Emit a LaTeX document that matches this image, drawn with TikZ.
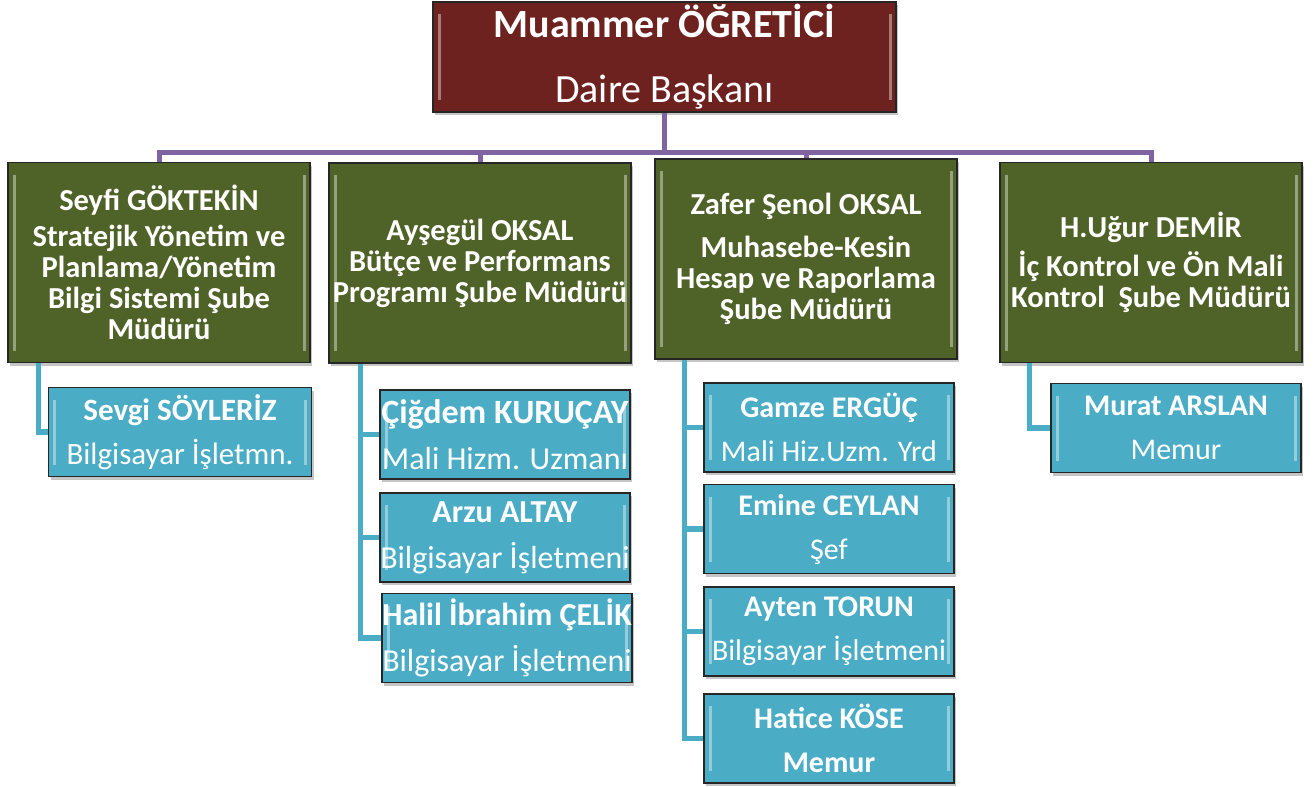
\documentclass[tikz,border=0pt]{standalone}
\usepackage{fontspec}
\setmainfont{Carlito}
\usetikzlibrary{shadows}
\definecolor{chiefred}{RGB}{110,34,31}
\definecolor{unitgreen}{RGB}{79,98,40}
\definecolor{staffblue}{RGB}{75,172,198}
\definecolor{busviolet}{RGB}{128,100,162}
\tikzset{
  box/.style={draw=black!85,line width=1.5pt,text=white,align=center,inner sep=0pt,
    drop shadow={shadow xshift=2pt,shadow yshift=-3pt,opacity=.45},
    path picture={
      \draw[white,opacity=.4,line width=3pt]
        ([shift={(6pt,-12pt)}]path picture bounding box.north west) -- ([shift={(6pt,12pt)}]path picture bounding box.south west)
        ([shift={(-6pt,-12pt)}]path picture bounding box.north east) -- ([shift={(-6pt,12pt)}]path picture bounding box.south east);}},
  chief/.style={box,fill=chiefred,minimum width=463pt,minimum height=110pt,font=\fontsize{40}{65}\selectfont},
  unit/.style={box,fill=unitgreen,minimum width=302pt,minimum height=200pt,font=\fontsize{30.5}{31}\selectfont\bfseries},
  staff/.style={box,fill=staffblue,minimum width=250pt,minimum height=89pt,font=\fontsize{30}{44}\selectfont},
  wide/.style={font=\fontsize{32}{46}\selectfont},
  bus/.style={busviolet,line width=5pt},
  twig/.style={staffblue,line width=5.5pt}
}
\begin{document}
\begin{tikzpicture}[x=1pt,y=-1pt]
\path[use as bounding box,fill=white] (0,0) rectangle (1315,787);
\node[chief] (chief) at (664.5,57) {\textbf{Muammer ÖĞRETİCİ}\\Daire Başkanı};
\node[unit] (u1) at (159,262.5) {Seyfi GÖKTEKİN\\[5pt]Stratejik Yönetim ve\\Planlama/Yönetim\\Bilgi Sistemi Şube\\Müdürü};
\node[unit] (u2) at (480,263) {Ayşegül OKSAL\\Bütçe ve Performans\\Programı Şube Müdürü};
\node[unit] (u3) at (806,259) {Zafer Şenol OKSAL\\[12pt]Muhasebe-Kesin\\Hesap ve Raporlama\\Şube Müdürü};
\node[unit] (u4) at (1151,262.5) {H.Uğur DEMİR\\[8pt]İç Kontrol ve Ön Mali\\Kontrol\ \ Şube Müdürü};
\node[staff,minimum width=263pt,font=\fontsize{31}{44}\selectfont] (s11) at (180,432) {\textbf{Sevgi SÖYLERİZ}\\Bilgisayar İşletmn.};
\node[staff,wide] (s21) at (505,434.5) {\textbf{\fontsize{34}{46}\selectfont Çiğdem KURUÇAY}\\Mali Hizm. Uzmanı};
\node[staff,wide] (s22) at (505,537.5) {\textbf{Arzu ALTAY}\\Bilgisayar İşletmeni};
\node[staff,wide] (s23) at (507,638) {\textbf{Halil İbrahim ÇELİK}\\Bilgisayar İşletmeni};
\node[staff] (s31) at (829,427.5) {\textbf{Gamze ERGÜÇ}\\Mali Hiz.Uzm. Yrd};
\node[staff] (s32) at (829,529) {\textbf{Emine CEYLAN}\\Şef};
\node[staff] (s33) at (829,631.5) {\textbf{Ayten TORUN}\\Bilgisayar İşletmeni};
\node[staff] (s34) at (829,738.5) {\textbf{Hatice KÖSE}\\\textbf{Memur}};
\node[staff] (s41) at (1176,428) {\textbf{Murat ARSLAN}\\Memur};
\coordinate (busline) at (0,152);
\draw[bus] (chief.south) -- (chief.south |- busline) -| (u1.north);
\draw[bus] (chief.south |- busline) -| (u2.north);
\draw[bus] (chief.south |- busline) -| (u3.north);
\draw[bus] (chief.south |- busline) -| (u4.north);
\draw[twig] ([xshift=31pt]u1.south west) |- (s11.west);
\draw[twig] ([xshift=32pt]u2.south west) |- (s21.west);
\draw[twig] ([xshift=32pt]u2.south west) |- (s22.west);
\draw[twig] ([xshift=32pt]u2.south west) |- (s23.west);
\draw[twig] ([xshift=30pt]u3.south west) |- (s31.west);
\draw[twig] ([xshift=30pt]u3.south west) |- (s32.west);
\draw[twig] ([xshift=30pt]u3.south west) |- (s33.west);
\draw[twig] ([xshift=30pt]u3.south west) |- (s34.west);
\draw[twig] ([xshift=30pt]u4.south west) |- (s41.west);
\end{tikzpicture}
\end{document}
